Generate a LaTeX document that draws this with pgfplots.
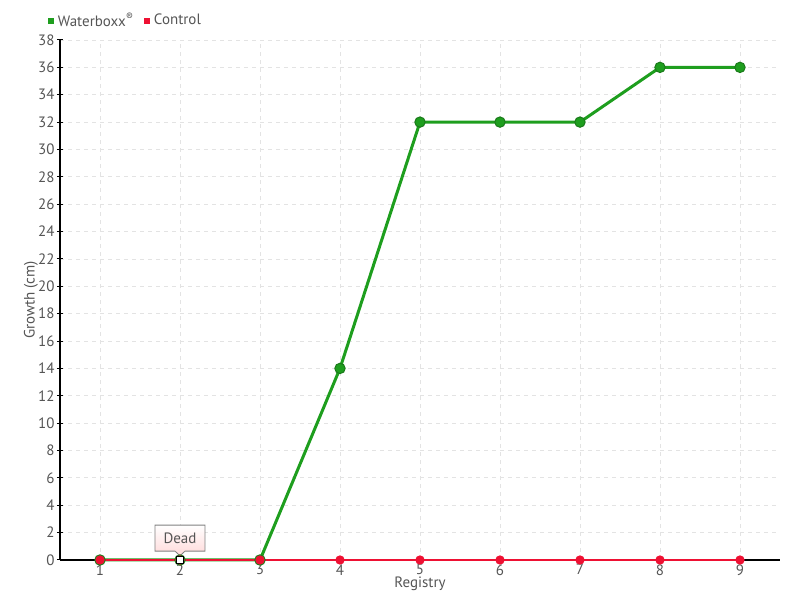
\documentclass[border=0pt]{standalone}
\usepackage{fontspec}
\setmainfont{PT Sans}
\usepackage{pgfplots}
\pgfplotsset{compat=1.18}
\usetikzlibrary{shapes.callouts}
\definecolor{wbgreen}{HTML}{1E9E1E}
\definecolor{wbdark}{HTML}{1A7A1A}
\definecolor{ctred}{HTML}{EE1133}
\definecolor{txt}{HTML}{555555}
\begin{document}
\begin{tikzpicture}[x=1pt,y=1pt]
\path[use as bounding box] (-30,-20) rectangle (370,280);
\begin{axis}[at={(0,0)}, anchor=south west, scale only axis, width=360pt, height=260pt,
  xmin=0.5, xmax=9.5, ymin=0, ymax=38,
  xtick={1,...,9}, ytick={0,2,...,38},
  axis lines=left, axis line style={-, black, line width=0.6pt},
  grid=major, major grid style={dash pattern=on 2pt off 2pt, color=gray!22, line width=0.4pt},
  tick style={black, line width=0.5pt}, major tick length=3pt, tick align=center,
  ticklabel style={font=\fontsize{7.5}{8}\selectfont, text=txt},
  xticklabel style={inner sep=0.5pt},
  yticklabel style={inner sep=1pt},
  /pgf/number format/assume math mode=true,
  xlabel={Registry}, ylabel={Growth (cm)},
  label style={font=\fontsize{7.5}{8}\selectfont, text=txt},
  xlabel style={at={(axis description cs:0.5,0)}, anchor=center, yshift=-12pt},
  ylabel style={at={(axis description cs:0,0.5)}, anchor=center, yshift=14.5pt},
  legend style={at={(axis description cs:-0.017,1.0365)}, anchor=west, draw=none, fill=none,
    font=\fontsize{7.5}{8}\selectfont, text=txt, inner sep=0pt},
  legend columns=2,
  legend cell align=left,
  /tikz/every even column/.append style={column sep=3pt},
  clip=false,
]
\addlegendimage{legend image code/.code={\fill[wbgreen] (0pt,-1.25pt) rectangle (2.5pt,1.25pt);}}
\addlegendentry{Waterboxx\textsuperscript{®}}
\addlegendimage{legend image code/.code={\fill[ctred] (0pt,-1.25pt) rectangle (2.5pt,1.25pt);}}
\addlegendentry{Control}
\addplot[wbgreen, line width=1.5pt, mark=*, mark size=2.6pt, mark options={fill=wbgreen, draw=wbdark, line width=0.5pt}, forget plot]
  coordinates {(1,0) (2,0) (3,0) (4,14) (5,32) (6,32) (7,32) (8,36) (9,36)};
\addplot[ctred, line width=0.6pt, mark=*, mark size=2pt, mark options={fill=ctred, draw=ctred}, forget plot]
  coordinates {(1,0) (2,0) (3,0) (4,0) (5,0) (6,0) (7,0) (8,0) (9,0)};
\addplot[only marks, mark=square*, mark size=1.6pt, mark options={fill=white, draw=black, line width=0.6pt}, forget plot]
  coordinates {(2,0)};
\node[rectangle callout, callout absolute pointer={(axis cs:2,0.3)}, callout pointer width=5pt,
  draw=gray, top color=white, bottom color=red!15, font=\fontsize{7.5}{8}\selectfont, text=txt,
  minimum width=25pt, minimum height=13pt, inner sep=1pt] at (axis cs:2,1.6) {Dead};
\end{axis}
\end{tikzpicture}
\end{document}
